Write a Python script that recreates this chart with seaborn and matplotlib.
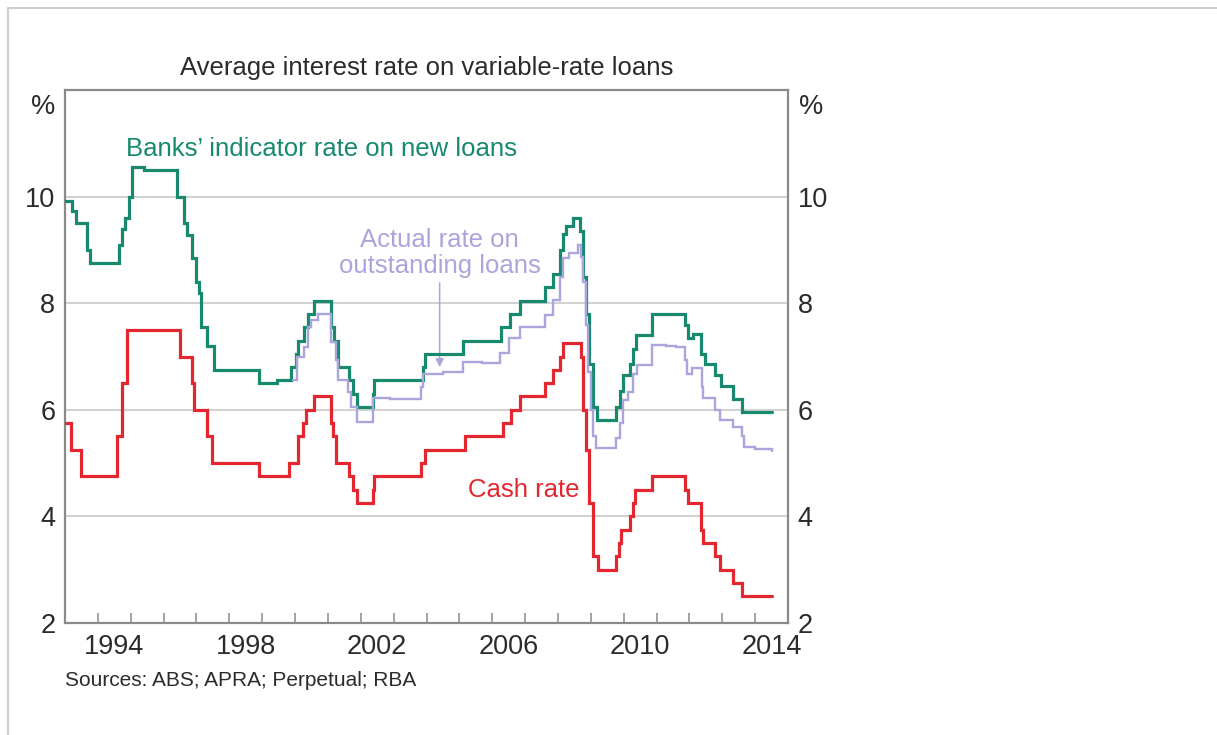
import matplotlib
matplotlib.use("Agg")
import matplotlib.pyplot as plt
import matplotlib.transforms as mtransforms
from matplotlib.lines import Line2D
import numpy as np
import pandas as pd
import seaborn as sns

# ---------------- data (decimal years, % p.a.) ----------------
cash_dates = [1993.0, 1993.17, 1993.5, 1994.59, 1994.74, 1994.88, 1996.5, 1996.87, 1996.93,
              1997.33, 1997.48, 1998.91, 1999.82, 2000.08, 2000.25, 2000.33, 2000.59, 2001.09,
              2001.17, 2001.24, 2001.65, 2001.75, 2001.9, 2002.36, 2002.41, 2003.84, 2003.94,
              2005.16, 2006.33, 2006.58, 2006.84, 2007.6, 2007.85, 2008.05, 2008.16, 2008.71,
              2008.77, 2008.84, 2008.93, 2009.07, 2009.22, 2009.78, 2009.86, 2009.93, 2010.19,
              2010.27, 2010.34, 2010.85, 2011.87, 2011.95, 2012.35, 2012.42, 2012.77, 2012.92,
              2013.34, 2013.59, 2014.5]
cash_rate = [5.75, 5.25, 4.75, 5.5, 6.5, 7.5, 7.0, 6.5, 6.0,
             5.5, 5.0, 4.75, 5.0, 5.5, 5.75, 6.0, 6.25, 5.75,
             5.5, 5.0, 4.75, 4.5, 4.25, 4.5, 4.75, 5.0, 5.25,
             5.5, 5.75, 6.0, 6.25, 6.5, 6.75, 7.0, 7.25, 7.0,
             6.0, 5.25, 4.25, 3.25, 3.0, 3.25, 3.5, 3.75, 4.0,
             4.25, 4.5, 4.75, 4.5, 4.25, 3.75, 3.5, 3.25, 3.0,
             2.75, 2.5, 2.5]

indicator_dates = [1993.0, 1993.22, 1993.32, 1993.67, 1993.75, 1994.64, 1994.74, 1994.84, 1994.95,
                   1995.03, 1995.4, 1996.42, 1996.62, 1996.72, 1996.87, 1996.98, 1997.08, 1997.13,
                   1997.33, 1997.54, 1998.91, 1999.46, 1999.87, 2000.02, 2000.08, 2000.28, 2000.38,
                   2000.59, 2001.09, 2001.19, 2001.3, 2001.65, 2001.75, 2001.9, 2002.36, 2002.41,
                   2003.89, 2003.94, 2005.1, 2006.27, 2006.53, 2006.84, 2007.6, 2007.85, 2008.05,
                   2008.16, 2008.26, 2008.46, 2008.66, 2008.77, 2008.86, 2008.94, 2009.08, 2009.2,
                   2009.78, 2009.88, 2009.98, 2010.19, 2010.29, 2010.36, 2010.85, 2011.87, 2011.95,
                   2012.1, 2012.35, 2012.47, 2012.77, 2012.95, 2013.34, 2013.6, 2014.5]
indicator_rate = [9.92, 9.73, 9.5, 9.0, 8.75, 9.1, 9.4, 9.6, 10.0,
                  10.55, 10.5, 10.0, 9.5, 9.28, 8.85, 8.4, 8.2, 7.55,
                  7.2, 6.75, 6.5, 6.55, 6.8, 7.05, 7.3, 7.55, 7.8,
                  8.05, 7.55, 7.3, 6.8, 6.55, 6.3, 6.05, 6.3, 6.55,
                  6.8, 7.05, 7.3, 7.55, 7.8, 8.05, 8.3, 8.55, 9.0,
                  9.3, 9.45, 9.6, 9.35, 8.5, 7.8, 6.85, 6.05, 5.8,
                  6.05, 6.35, 6.65, 6.85, 7.15, 7.4, 7.8, 7.6, 7.35,
                  7.42, 7.05, 6.85, 6.65, 6.45, 6.2, 5.95, 5.95]

outstanding_dates = [1999.95, 2000.07, 2000.28, 2000.38, 2000.48, 2000.69, 2001.09, 2001.24, 2001.3,
                     2001.6, 2001.7, 2001.9, 2002.36, 2002.9, 2003.5, 2003.84, 2003.89, 2004.5,
                     2005.11, 2005.7, 2006.23, 2006.5, 2006.84, 2007.6, 2007.85, 2008.05, 2008.16,
                     2008.35, 2008.6, 2008.7, 2008.76, 2008.84, 2008.92, 2009.0, 2009.08, 2009.17,
                     2009.78, 2009.88, 2009.98, 2010.13, 2010.29, 2010.4, 2010.85, 2011.3, 2011.6,
                     2011.87, 2011.92, 2012.07, 2012.37, 2012.42, 2012.77, 2012.92, 2013.34, 2013.59,
                     2013.67, 2014.0, 2014.5]
outstanding_rate = [6.56, 7.0, 7.18, 7.56, 7.68, 7.79, 7.28, 6.93, 6.56,
                    6.34, 6.06, 5.78, 6.22, 6.21, 6.2, 6.43, 6.68, 6.7,
                    6.9, 6.87, 7.06, 7.35, 7.56, 7.78, 8.06, 8.5, 8.84,
                    8.94, 9.09, 8.87, 8.4, 7.6, 6.7, 6.0, 5.5, 5.28,
                    5.47, 5.75, 6.18, 6.34, 6.68, 6.84, 7.22, 7.2, 7.17,
                    6.93, 6.68, 6.78, 6.43, 6.22, 6.0, 5.81, 5.68, 5.5,
                    5.31, 5.27, 5.23]

year_labels = ["1994", "1998", "2002", "2006", "2010", "2014"]
y_labels = ["2", "4", "6", "8", "10"]

title = "Average interest rate on variable-rate loans"
label_indicator = "Banks\u2019 indicator rate on new loans"
label_outstanding = "Actual rate on\noutstanding loans"
label_cash = "Cash rate"
source_text = "Sources: ABS; APRA; Perpetual; RBA"

# ---------------- style ----------------
GREEN = "#16896f"
RED = "#e3262f"
LAVENDER = "#aaa5dc"
SPINE = "#8a8a8a"
GRID = "#d2d2d2"
TEXT = "#2b2b2b"

sns.set_theme(style="white")
plt.rcParams["font.family"] = ["Liberation Sans", "DejaVu Sans"]

W, H = 1217, 735
fig = plt.figure(figsize=(W / 100, H / 100), dpi=100)
fig.patch.set_facecolor("white")
L, R, T, B = 65, 788, 90, 623
ax = fig.add_axes([L / W, 1 - B / H, (R - L) / W, (B - T) / H])

df_cash = pd.DataFrame({"year": cash_dates, "rate": cash_rate})
df_ind = pd.DataFrame({"year": indicator_dates, "rate": indicator_rate})
df_out = pd.DataFrame({"year": outstanding_dates, "rate": outstanding_rate})

common = dict(x="year", y="rate", ax=ax, estimator=None, sort=False,
              drawstyle="steps-post", solid_joinstyle="miter")
sns.lineplot(data=df_cash, color=RED, linewidth=2.3, zorder=3, **common)
sns.lineplot(data=df_ind, color=GREEN, linewidth=2.3, zorder=4, **common)
sns.lineplot(data=df_out, color=LAVENDER, linewidth=1.7, zorder=5, **common)

ax.set_xlim(1993, 2015)
ax.set_ylim(2, 12)
ax.set_xlabel("")
ax.set_ylabel("")

# y axis: labels on both sides, gridlines only
ax.set_yticks([2, 4, 6, 8, 10])
ax.set_yticklabels(y_labels)
ax.tick_params(axis="y", left=False, right=False, length=0, labelleft=True, labelright=True,
               labelsize=19.5, colors=TEXT, pad=7)
for y in [4, 6, 8, 10]:
    ax.axhline(y, color=GRID, linewidth=1.5, zorder=1)

# x axis: year boundaries as inward ticks, labels centred mid-year
ax.set_xticks([int(s) + 0.5 for s in year_labels])
ax.set_xticklabels(year_labels)
ax.set_xticks(np.arange(1994, 2015), minor=True)
ax.tick_params(axis="x", which="major", length=0, labelsize=19.5, colors=TEXT, pad=8)
ax.tick_params(axis="x", which="minor", direction="in", length=7, width=1.1,
               color=SPINE, bottom=True)

for s in ax.spines.values():
    s.set_visible(True)
    s.set_color(SPINE)
    s.set_linewidth(1.6)

# "%" unit labels
trans_l = mtransforms.blended_transform_factory(ax.transAxes, ax.transData)
ax.annotate("%", xy=(0, 11.68), xycoords=trans_l, xytext=(-7, 0), textcoords="offset points",
            ha="right", va="center", fontsize=19.5, color=TEXT)
ax.annotate("%", xy=(1, 11.68), xycoords=trans_l, xytext=(8, 0), textcoords="offset points",
            ha="left", va="center", fontsize=19.5, color=TEXT)

# series labels
ax.text(1994.85, 10.76, label_indicator, color=GREEN, fontsize=18.5, ha="left", va="baseline")
ax.text(2004.4, 8.94, label_outstanding, color=LAVENDER, fontsize=18.5, ha="center",
        va="center", linespacing=1.08)
ax.annotate("", xy=(2004.4, 6.8), xytext=(2004.4, 8.38),
            arrowprops=dict(arrowstyle="-|>", color=LAVENDER, lw=1.1, mutation_scale=12,
                            shrinkA=0, shrinkB=0))
ax.text(2008.66, 4.5, label_cash, color=RED, fontsize=18.5, ha="right", va="center")

# title and source
fig.text((L + R) / 2 / W, 1 - 75 / H, title, ha="center", va="baseline", fontsize=18.5, color=TEXT)
fig.text(L / W, 1 - 680 / H, source_text, ha="left", va="center", fontsize=15, color=TEXT)

# outer frame lines from the screenshot
fig.add_artist(Line2D([8 / W, 1], [1 - 8 / H, 1 - 8 / H], transform=fig.transFigure,
                      color="#d0d0d0", linewidth=1.5))
fig.add_artist(Line2D([8 / W, 8 / W], [0, 1 - 8 / H], transform=fig.transFigure,
                      color="#d0d0d0", linewidth=1.5))

fig.savefig("out.png", dpi=100, facecolor="white")
